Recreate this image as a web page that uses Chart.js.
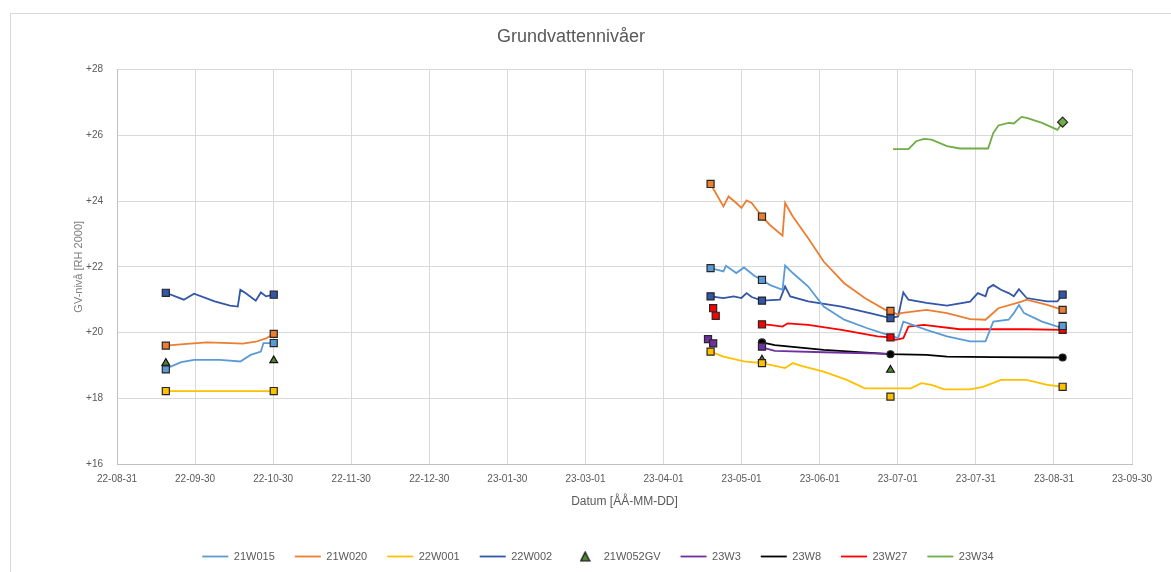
<!DOCTYPE html>
<html>
<head>
<meta charset="utf-8">
<title>Grundvattennivåer</title>
<script src="https://cdn.jsdelivr.net/npm/chart.js@4.4.0/dist/chart.umd.min.js"></script>
<style>
  html, body { margin: 0; padding: 0; background: #fff; }
  #wrap { width: 1171px; height: 572px; }
</style>
</head>
<body>
<div id="wrap"><canvas id="gvChart" width="1171" height="572"></canvas></div>
<script>
// Axis ticks (ÅÅ-MM-DD), evenly spaced from 22-08-31 to 23-09-30
const tickLabels = ["22-08-31", "22-09-30", "22-10-30", "22-11-30", "22-12-30", "23-01-30", "23-03-01",
  "23-04-01", "23-05-01", "23-06-01", "23-07-01", "23-07-31", "23-08-31", "23-09-30"];
const yTicks = [16, 18, 20, 22, 24, 26, 28];

// 21W015
const w015Dates = ["22-09-19", "22-09-25", "22-09-30", "22-10-10", "22-10-18", "22-10-22", "22-10-26", "22-10-27", "22-10-31",
  "23-01-01",
  "23-04-19", "23-04-24", "23-04-25", "23-04-29", "23-05-02", "23-05-06", "23-05-09", "23-05-12", "23-05-17", "23-05-18",
  "23-05-21", "23-05-27", "23-06-02", "23-06-10", "23-06-19", "23-06-27", "23-07-01", "23-07-03", "23-07-05", "23-07-12",
  "23-07-20", "23-07-29", "23-08-04", "23-08-07", "23-08-13", "23-08-15", "23-08-17", "23-08-19", "23-08-26", "23-09-01",
  "23-09-03"];
const w015Levels = [18.90, 19.10, 19.17, 19.17, 19.12, 19.32, 19.42, 19.68, 19.68,
  null,
  21.96, 21.86, 22.03, 21.81, 21.98, 21.73, 21.60, 21.45, 21.30, 22.04,
  21.81, 21.40, 20.79, 20.39, 20.13, 19.93, 19.83, 20.33, 20.28, 20.08,
  19.88, 19.73, 19.73, 20.33, 20.39, 20.59, 20.84, 20.59, 20.33, 20.18,
  20.20];
const w015ManDates = ["22-09-19", "22-10-31", "23-04-19", "23-05-09", "23-09-03"];
const w015ManLevels = [18.88, 19.68, 21.96, 21.60, 20.20];

// 21W020
const w020Dates = ["22-09-19", "22-09-26", "22-10-05", "22-10-14", "22-10-19", "22-10-24", "22-10-28", "22-10-31",
  "23-01-01",
  "23-04-19", "23-04-24", "23-04-26", "23-04-29", "23-05-01", "23-05-03", "23-05-05", "23-05-09", "23-05-12", "23-05-17",
  "23-05-18", "23-05-21", "23-05-27", "23-06-02", "23-06-10", "23-06-18", "23-06-26", "23-06-28", "23-07-01", "23-07-02",
  "23-07-12", "23-07-20", "23-07-29", "23-08-04", "23-08-09", "23-08-18", "23-08-20", "23-08-28", "23-09-03"];
const w020Levels = [19.60, 19.65, 19.70, 19.68, 19.66, 19.72, 19.82, 19.96,
  null,
  24.52, 23.84, 24.14, 23.94, 23.79, 24.02, 23.94, 23.53, 23.28, 22.95,
  23.94, 23.53, 22.87, 22.16, 21.50, 21.05, 20.69, 20.66, 20.54, 20.59,
  20.69, 20.59, 20.41, 20.39, 20.74, 20.94, 21.00, 20.84, 20.69];
const w020ManDates = ["22-09-19", "22-10-31", "23-04-19", "23-05-09", "23-06-28", "23-09-03"];
const w020ManLevels = [19.60, 19.96, 24.52, 23.53, 20.66, 20.69];

// 22W001
const w001Dates = ["22-09-19", "22-10-31",
  "23-01-01",
  "23-04-19", "23-04-24", "23-05-02", "23-05-09", "23-05-15", "23-05-18", "23-05-21", "23-05-25", "23-06-02", "23-06-11",
  "23-06-18", "23-06-28", "23-07-06", "23-07-10", "23-07-14", "23-07-19", "23-07-29", "23-08-03", "23-08-10", "23-08-20",
  "23-08-28", "23-09-03"];
const w001Levels = [18.22, 18.22,
  null,
  19.42, 19.27, 19.12, 19.07, 18.97, 18.92, 19.07, 18.97, 18.81, 18.56,
  18.30, 18.30, 18.30, 18.46, 18.41, 18.27, 18.27, 18.35, 18.56, 18.56,
  18.41, 18.35];
const w001ManDates = ["22-09-19", "22-10-31", "23-04-19", "23-05-09", "23-06-28", "23-09-03"];
const w001ManLevels = [18.22, 18.22, 19.42, 19.07, 18.05, 18.35];

// 22W002
const w002Dates = ["22-09-19", "22-09-26", "22-09-30", "22-10-08", "22-10-14", "22-10-17", "22-10-18", "22-10-20", "22-10-24",
  "22-10-26", "22-10-28", "22-10-31",
  "23-01-01",
  "23-04-19", "23-04-24", "23-04-28", "23-05-01", "23-05-03", "23-05-05", "23-05-09", "23-05-16", "23-05-18", "23-05-20",
  "23-05-27", "23-06-09", "23-06-20", "23-06-28", "23-07-01", "23-07-03", "23-07-05", "23-07-12", "23-07-20", "23-07-29",
  "23-08-01", "23-08-04", "23-08-05", "23-08-07", "23-08-10", "23-08-13", "23-08-15", "23-08-17", "23-08-20", "23-08-28",
  "23-09-01", "23-09-03"];
const w002Levels = [21.21, 21.00, 21.18, 20.95, 20.82, 20.79, 21.30, 21.20, 20.97,
  21.22, 21.10, 21.15,
  null,
  21.10, 21.05, 21.10, 21.05, 21.20, 21.08, 20.97, 21.00, 21.40, 21.10,
  20.95, 20.79, 20.59, 20.44, 20.49, 21.22, 21.00, 20.90, 20.82, 20.94,
  21.20, 21.10, 21.35, 21.45, 21.30, 21.20, 21.10, 21.32, 21.05, 20.95,
  20.95, 21.15];
const w002ManDates = ["22-09-19", "22-10-31", "23-04-19", "23-05-09", "23-06-28", "23-09-03"];
const w002ManLevels = [21.21, 21.15, 21.10, 20.97, 20.44, 21.15];

// 21W052GV (manual readings only)
const gvDates = ["22-09-19", "22-10-31", "23-05-09", "23-06-28"];
const gvLevels = [19.07, 19.15, 19.17, 18.86];

// 23W3
const w3Dates = ["23-05-09", "23-05-14", "23-06-02", "23-06-28"];
const w3Levels = [19.55, 19.44, 19.40, 19.35];
const w3ManDates = ["23-04-18", "23-04-20", "23-05-09"];
const w3ManLevels = [19.80, 19.67, 19.57];

// 23W8
const w8Dates = ["23-05-09", "23-05-14", "23-06-02", "23-06-28", "23-07-12", "23-07-20", "23-08-07", "23-09-03"];
const w8Levels = [19.70, 19.62, 19.47, 19.34, 19.32, 19.27, 19.25, 19.24];
const w8ManDates = ["23-05-09", "23-06-28", "23-09-03"];
const w8ManLevels = [19.70, 19.34, 19.24];

// 23W27
const w27Dates = ["23-05-09", "23-05-12", "23-05-17", "23-05-19", "23-05-27", "23-06-09", "23-06-23", "23-06-28",
  "23-06-30", "23-07-03", "23-07-05", "23-07-11", "23-07-25", "23-08-07", "23-08-20", "23-09-03"];
const w27Levels = [20.25, 20.23, 20.18, 20.28, 20.23, 20.08, 19.88, 19.85,
  19.78, 19.83, 20.18, 20.23, 20.10, 20.10, 20.10, 20.08];
const w27ManDates = ["23-04-20", "23-04-21", "23-05-09", "23-06-28", "23-09-03"];
const w27ManLevels = [20.74, 20.51, 20.25, 19.85, 20.08];

// 23W34
const w34Dates = ["23-06-29", "23-07-05", "23-07-08", "23-07-11", "23-07-14", "23-07-20", "23-07-25", "23-08-05",
  "23-08-07", "23-08-09", "23-08-13", "23-08-15", "23-08-18", "23-08-20", "23-08-26", "23-09-01", "23-09-03"];
const w34Levels = [25.58, 25.58, 25.82, 25.89, 25.87, 25.67, 25.60, 25.60,
  26.07, 26.30, 26.38, 26.36, 26.56, 26.53, 26.38, 26.17, 26.40];
const w34ManDates = ["23-09-03"];
const w34ManLevels = [26.40];

// Date helpers: x axis is days since 22-08-31
const DAY0 = Date.UTC(2022, 7, 31);
function toDay(s) {
  const [yy, mm, dd] = s.split("-").map(Number);
  return (Date.UTC(2000 + yy, mm - 1, dd) - DAY0) / 86400000;
}
const axisEnd = toDay(tickLabels[tickLabels.length - 1]);
const tickDays = tickLabels.map((_, i) => (i * axisEnd) / (tickLabels.length - 1));

function points(dates, levels) {
  return dates.map((d, i) => ({ x: toDay(d), y: levels[i] }));
}

const TEXT = "#595959";
const EDGE = "#262626";
const GV_FILL = "#548235";

function lineSet(label, color, dates, levels) {
  return {
    label: label,
    data: points(dates, levels),
    borderColor: color,
    backgroundColor: color,
    borderWidth: 1.8,
    pointRadius: 0,
    pointHoverRadius: 0,
    pointStyle: "line",
    spanGaps: false,
    tension: 0,
    order: 1,
  };
}

function markerSet(label, color, dates, levels, style, radius) {
  return {
    label: label + " manuell",
    manual: true,
    data: points(dates, levels),
    showLine: false,
    backgroundColor: color,
    borderColor: EDGE,
    borderWidth: 1.2,
    pointStyle: style || "rect",
    pointRadius: radius || 5,
    pointHoverRadius: radius || 5,
    order: 0,
  };
}

// Small triangle used as the legend symbol for 21W052GV
const legendTriangle = document.createElement("canvas");
legendTriangle.width = 11;
legendTriangle.height = 11;
(function () {
  const t = legendTriangle.getContext("2d");
  t.beginPath();
  t.moveTo(5.5, 1);
  t.lineTo(10, 10);
  t.lineTo(1, 10);
  t.closePath();
  t.fillStyle = GV_FILL;
  t.fill();
  t.strokeStyle = "#111111";
  t.lineWidth = 1.2;
  t.stroke();
})();

// Chart frame + white background, and nudge legend to match original placement
const framePlugin = {
  id: "frame",
  afterLayout(chart) {
    if (chart.legend) {
      chart.legend.left += 27;
      chart.legend.right += 27;
    }
  },
  beforeDraw(chart) {
    const ctx = chart.ctx;
    ctx.save();
    ctx.fillStyle = "#ffffff";
    ctx.fillRect(0, 0, chart.width, chart.height);
    ctx.strokeStyle = "#d9d9d9";
    ctx.lineWidth = 1;
    ctx.strokeRect(10.5, 13.5, chart.width + 20, chart.height + 20);
    ctx.restore();
  },
};

Chart.defaults.font.family = "'Liberation Sans', Arial, sans-serif";
Chart.defaults.color = TEXT;

const ctx = document.getElementById("gvChart").getContext("2d");

new Chart(ctx, {
  type: "line",
  data: {
    datasets: [
      lineSet("21W015", "#5B9BD5", w015Dates, w015Levels),
      lineSet("21W020", "#ED7D31", w020Dates, w020Levels),
      lineSet("22W001", "#FFC000", w001Dates, w001Levels),
      lineSet("22W002", "#3256A8", w002Dates, w002Levels),
      {
        label: "21W052GV",
        data: points(gvDates, gvLevels),
        showLine: false,
        backgroundColor: GV_FILL,
        borderColor: "#111111",
        borderWidth: 1.2,
        pointStyle: "triangle",
        pointRadius: 4.5,
        pointHoverRadius: 4.5,
        order: 1,
      },
      lineSet("23W3", "#7030A0", w3Dates, w3Levels),
      lineSet("23W8", "#000000", w8Dates, w8Levels),
      lineSet("23W27", "#FF0000", w27Dates, w27Levels),
      lineSet("23W34", "#70AD47", w34Dates, w34Levels),
      markerSet("21W015", "#5B9BD5", w015ManDates, w015ManLevels),
      markerSet("21W020", "#ED7D31", w020ManDates, w020ManLevels),
      markerSet("22W001", "#FFC000", w001ManDates, w001ManLevels),
      markerSet("22W002", "#3256A8", w002ManDates, w002ManLevels),
      markerSet("23W3", "#7030A0", w3ManDates, w3ManLevels),
      markerSet("23W8", "#000000", w8ManDates, w8ManLevels, "circle", 3.5),
      markerSet("23W27", "#FF0000", w27ManDates, w27ManLevels),
      markerSet("23W34", "#70AD47", w34ManDates, w34ManLevels, "rectRot", 5),
    ],
  },
  options: {
    responsive: false,
    animation: false,
    layout: {
      padding: { left: 10, right: 39, top: 0, bottom: 0 },
    },
    plugins: {
      title: {
        display: true,
        text: "Grundvattennivåer",
        color: TEXT,
        font: { size: 18, weight: "normal" },
        padding: { top: 26, bottom: 22 },
      },
      legend: {
        position: "bottom",
        labels: {
          usePointStyle: true,
          pointStyleWidth: 26,
          boxHeight: 7,
          padding: 20,
          color: TEXT,
          font: { size: 11 },
          generateLabels(chart) {
            const items = Chart.defaults.plugins.legend.labels.generateLabels(chart);
            items.forEach((item) => {
              if (item.text === "21W052GV") item.pointStyle = legendTriangle;
            });
            return items;
          },
          filter: (item, data) => !data.datasets[item.datasetIndex].manual,
        },
      },
      tooltip: { enabled: false },
    },
    scales: {
      x: {
        type: "linear",
        min: 0,
        max: axisEnd,
        afterBuildTicks(scale) {
          scale.ticks = tickDays.map((v) => ({ value: v }));
        },
        afterFit(scale) {
          scale.height = 67;
        },
        ticks: {
          autoSkip: false,
          maxRotation: 0,
          padding: 9,
          color: TEXT,
          font: { size: 10 },
          callback: (value, index) => tickLabels[index],
        },
        grid: { color: "#d9d9d9", drawTicks: false },
        border: { color: "#bfbfbf" },
        title: {
          display: true,
          text: "Datum [ÅÅ-MM-DD]",
          color: TEXT,
          font: { size: 12 },
          padding: { top: 0, bottom: 22 },
        },
      },
      y: {
        type: "linear",
        min: yTicks[0],
        max: yTicks[yTicks.length - 1],
        afterBuildTicks(scale) {
          scale.ticks = yTicks.map((v) => ({ value: v }));
        },
        afterFit(scale) {
          scale.width = 107;
        },
        ticks: {
          padding: 14,
          color: TEXT,
          font: { size: 10 },
          callback: (value) => "+" + value,
        },
        grid: { color: "#d9d9d9", drawTicks: false },
        border: { color: "#bfbfbf" },
        title: {
          display: true,
          text: "GV-nivå [RH 2000]",
          color: "#7f7f7f",
          font: { size: 11 },
          padding: { top: 62, bottom: 0 },
        },
      },
    },
  },
  plugins: [framePlugin],
});
</script>
</body>
</html>
